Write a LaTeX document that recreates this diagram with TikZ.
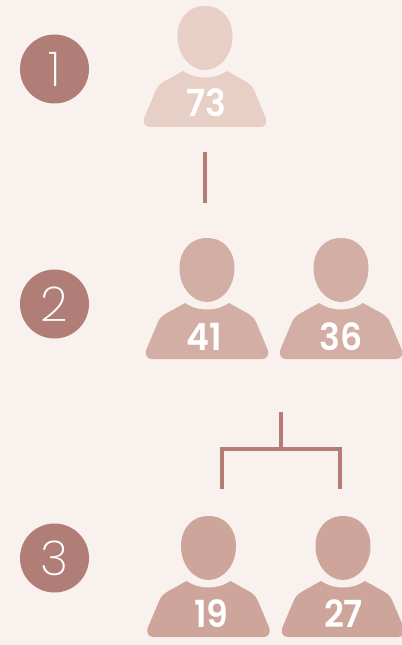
\documentclass[tikz,border=0pt]{standalone}
\usepackage{fontspec}
\setmainfont{Poppins}
\newfontfamily\numfont{Poppins SemiBold}
\newfontfamily\thinfont{Poppins ExtraLight}
\definecolor{bgc}{HTML}{F8F1ED}
\definecolor{lightp}{HTML}{E8CFC6}
\definecolor{midp}{HTML}{D2AEA4}
\definecolor{darkp}{HTML}{CDA59B}
\definecolor{circ}{HTML}{B17E77}
\definecolor{linec}{HTML}{B57C76}
\tikzset{
  x=0.75pt,y=-0.75pt,
  badge/.style={circle,fill=circ,minimum size=51.75pt,inner sep=0pt,text=white,font=\thinfont\fontsize{36}{36}\selectfont},
  agetext/.style={text=white,font=\numfont\fontsize{28}{28}\selectfont,inner sep=0pt,xscale=0.93},
  linkline/.style={draw=linec,line width=2.35pt},
  pics/person/.style={code={
    \fill[#1] (0,0) .. controls (17,0) and (27.5,13) .. (27.5,30)
      .. controls (27.5,50) and (14,64) .. (0,64)
      .. controls (-14,64) and (-27.5,50) .. (-27.5,30)
      .. controls (-27.5,13) and (-17,0) .. (0,0) -- cycle;
    \fill[#1] (-22,65) .. controls (-14,70) and (-8,71.5) .. (0,71.5)
      .. controls (8,71.5) and (14,70) .. (22,65)
      -- (40,75) .. controls (45,78) and (47,80) .. (49,84)
      -- (60,110) .. controls (63,117) and (60,121) .. (55,121)
      -- (-55,121) .. controls (-60,121) and (-63,117) .. (-60,110)
      -- (-49,84) .. controls (-47,80) and (-45,78) .. (-40,75) -- cycle;
  }}
}
\begin{document}
\begin{tikzpicture}
\useasboundingbox (0,0) rectangle (402,645);
\fill[bgc] (0,0) rectangle (402,645);
\node[badge] (b1) at (54.5,69) {1};
\node[badge] (b2) at (54.5,304) {2};
\node[badge] (b3) at (54.5,558) {3};
\pic at (205,6) {person=lightp};
\pic at (207,238) {person=midp};
\pic at (341,238) {person=midp};
\pic at (208.5,516) {person=darkp};
\pic at (343,516) {person=darkp};
\node[agetext] (p73) at (206.5,103) {73};
\node[agetext] (p41) at (204,337) {41};
\node[agetext] (p36) at (341.5,337) {36};
\node[agetext] (p19) at (211.5,614) {19};
\node[agetext] (p27) at (343.5,614) {27};
\coordinate (a1) at (205,152);
\coordinate (a2) at (205,203);
\coordinate (c0) at (281,412);
\coordinate (c1) at (281,449);
\coordinate (l0) at (222,449);
\coordinate (l1) at (222,489);
\coordinate (r0) at (340,449);
\coordinate (r1) at (340,489);
\draw[linkline] (a1) -- (a2);
\draw[linkline] (c0) -- (c1);
\draw[linkline] (l1) -- (l0) -- (r0) -- (r1);
\end{tikzpicture}
\end{document}
